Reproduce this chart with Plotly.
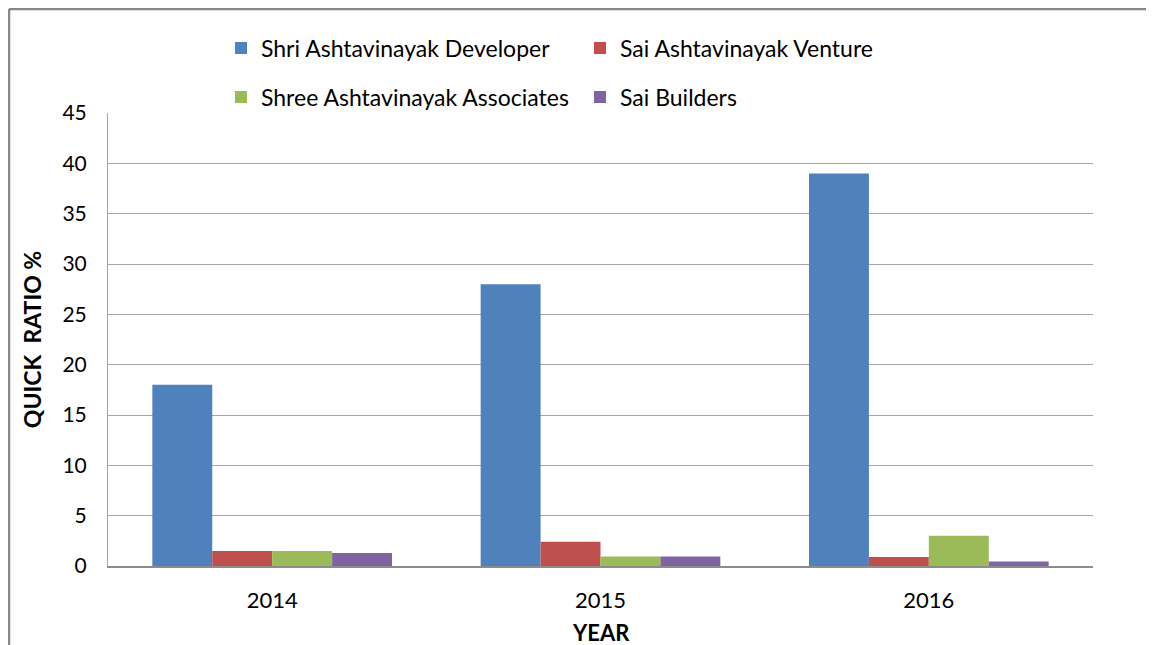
import plotly.graph_objects as go

years = ["2014", "2015", "2016"]
series_names = ["Shri Ashtavinayak Developer", "Sai Ashtavinayak Venture",
                "Shree Ashtavinayak Associates", "Sai Builders"]
shri_dev = [18, 28, 39]
sai_venture = [1.5, 2.4, 0.9]
shree_assoc = [1.5, 0.95, 3.0]
sai_builders = [1.3, 0.95, 0.45]
y_ticks = [0, 5, 10, 15, 20, 25, 30, 35, 40, 45]
x_title = "YEAR"
y_title = "QUICK  RATIO %"

colors = ["#4F81BD", "#C0504D", "#9BBB59", "#8064A2"]
values = [shri_dev, sai_venture, shree_assoc, sai_builders]
legends = ["legend", "legend", "legend2", "legend2"]

FONT = "Lato"
W, H = 1138, 637
L, R, T, B = 100, 53, 105, 79
PW, PH = W - L - R, H - T - B

fig = go.Figure()
for name, vals, col, lg in zip(series_names, values, colors, legends):
    fig.add_trace(go.Bar(x=years, y=vals, name=name, marker_color=col,
                         marker_line_width=0, legend=lg))

leg_common = dict(orientation="h", xanchor="left", yanchor="middle",
                  entrywidth=314, entrywidthmode="pixels",
                  font=dict(family=FONT, size=23, color="#000000"),
                  bgcolor="rgba(0,0,0,0)")

frame_line = dict(color="#888888", width=2.5)
fx0 = (1 - L) / PW
fy1 = 1 + (T - 1) / PH

fig.update_layout(
    width=W, height=H,
    margin=dict(l=L, r=R, t=T, b=B, autoexpand=False),
    paper_bgcolor="white", plot_bgcolor="white",
    barmode="group", bargap=0.27, bargroupgap=0,
    font=dict(family=FONT, size=20, color="#000000"),
    legend=dict(x=(213 - L) / PW, y=1 + (T - 40) / PH, **leg_common),
    legend2=dict(x=(213 - L) / PW, y=1 + (T - 89) / PH, **leg_common),
    xaxis=dict(showline=True, linecolor="#8C8C8C", linewidth=1.5, ticks="",
               automargin=False, ticklabelstandoff=14,
               tickfont=dict(family=FONT, size=22)),
    yaxis=dict(range=[0, 45], tickvals=y_ticks, showgrid=True, gridcolor="#A6A6A6",
               gridwidth=1, showline=True, linecolor="#A6A6A6", linewidth=1, ticks="",
               automargin=False, zeroline=False, ticklabelstandoff=16,
               tickfont=dict(family=FONT, size=21),
               title=dict(text="<b>" + y_title + "</b>", font=dict(family=FONT, size=23),
                          standoff=14)),
    annotations=[dict(text="<b>" + x_title + "</b>", xref="paper", yref="paper",
                      x=0.5, y=-(624 - (T + PH)) / PH,
                      xanchor="center", yanchor="middle", showarrow=False,
                      font=dict(family=FONT, size=22, color="#000000"))],
    shapes=[
        dict(type="line", xref="paper", yref="paper", x0=fx0, x1=1.3, y0=fy1, y1=fy1,
             line=frame_line, layer="below"),
        dict(type="line", xref="paper", yref="paper", x0=fx0, x1=fx0, y0=-0.4, y1=fy1,
             line=frame_line, layer="below"),
    ],
)

fig.write_html("out.html")
